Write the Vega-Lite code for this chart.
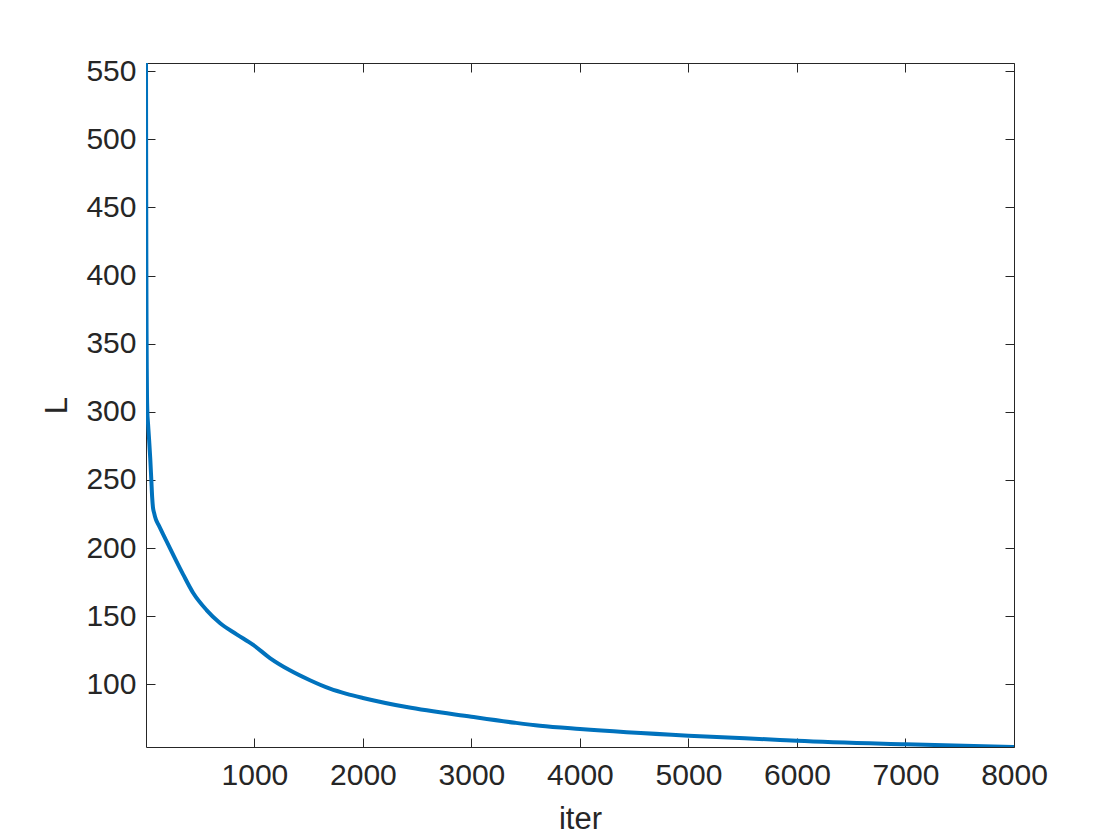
{
  "$schema": "https://vega.github.io/schema/vega-lite/v6.json",
  "autosize": "none",
  "padding": {"left": 146, "top": 63, "right": 106, "bottom": 93},
  "width": 868,
  "height": 684,
  "background": "white",
  "config": {
    "font": "Liberation Sans",
    "view": {"stroke": "#262626", "strokeWidth": 1},
    "axis": {
      "domain": false,
      "grid": false,
      "ticks": true,
      "tickColor": "#262626",
      "tickWidth": 1,
      "tickSize": -9,
      "labelFlush": false,
      "labelColor": "#262626",
      "labelFontSize": 30,
      "labelFont": "Liberation Sans",
      "titleFont": "Liberation Sans",
      "titleColor": "#262626",
      "titleFontSize": 31,
      "titleFontWeight": "normal"
    }
  },
  "data": {
    "values": [
      {"iter": 1, "L": 556},
      {"iter": 2, "L": 505},
      {"iter": 3, "L": 455},
      {"iter": 4, "L": 415},
      {"iter": 5, "L": 385},
      {"iter": 6, "L": 360},
      {"iter": 8, "L": 332},
      {"iter": 10, "L": 313},
      {"iter": 13, "L": 301},
      {"iter": 20, "L": 291},
      {"iter": 30, "L": 279},
      {"iter": 40, "L": 266},
      {"iter": 50, "L": 250},
      {"iter": 58, "L": 237},
      {"iter": 65, "L": 230},
      {"iter": 75, "L": 226},
      {"iter": 92, "L": 221},
      {"iter": 120, "L": 216.5},
      {"iter": 159, "L": 210},
      {"iter": 200, "L": 203.5},
      {"iter": 252, "L": 195},
      {"iter": 344, "L": 180.5},
      {"iter": 436, "L": 167},
      {"iter": 559, "L": 154.5},
      {"iter": 682, "L": 145},
      {"iter": 836, "L": 136.7},
      {"iter": 989, "L": 128.9},
      {"iter": 1143, "L": 119.3},
      {"iter": 1327, "L": 110.3},
      {"iter": 1512, "L": 103},
      {"iter": 1696, "L": 96.8},
      {"iter": 1850, "L": 93},
      {"iter": 2000, "L": 90},
      {"iter": 2403, "L": 83.3},
      {"iter": 3000, "L": 76.2},
      {"iter": 3400, "L": 71.8},
      {"iter": 3631, "L": 69.6},
      {"iter": 4000, "L": 67.2},
      {"iter": 5000, "L": 62.3},
      {"iter": 5843, "L": 59.2},
      {"iter": 6000, "L": 58.6},
      {"iter": 7000, "L": 56},
      {"iter": 8000, "L": 54}
    ]
  },
  "layer": [
    {
      "mark": {"type": "line", "stroke": "#0072BD", "strokeWidth": 4, "interpolate": "monotone", "clip": true},
      "encoding": {
        "x": {
          "field": "iter", "type": "quantitative",
          "scale": {"domain": [1, 8000], "nice": false, "zero": false},
          "axis": {"title": "iter", "values": [1000, 2000, 3000, 4000, 5000, 6000, 7000, 8000], "format": "d", "labelPadding": 22, "titlePadding": 14}
        },
        "y": {
          "field": "L", "type": "quantitative",
          "scale": {"domain": [54, 556], "nice": false, "zero": false},
          "axis": {"title": "L", "values": [100, 150, 200, 250, 300, 350, 400, 450, 500, 550], "format": "d", "labelPadding": 19, "titlePadding": 12}
        }
      }
    },
    {
      "mark": {"type": "line", "opacity": 0},
      "encoding": {
        "x": {
          "field": "iter", "type": "quantitative",
          "axis": {"orient": "top", "title": null, "labels": false, "values": [1000, 2000, 3000, 4000, 5000, 6000, 7000, 8000]}
        },
        "y": {
          "field": "L", "type": "quantitative",
          "axis": {"orient": "right", "title": null, "labels": false, "values": [100, 150, 200, 250, 300, 350, 400, 450, 500, 550]}
        }
      }
    }
  ],
  "resolve": {"axis": {"x": "independent", "y": "independent"}}
}
